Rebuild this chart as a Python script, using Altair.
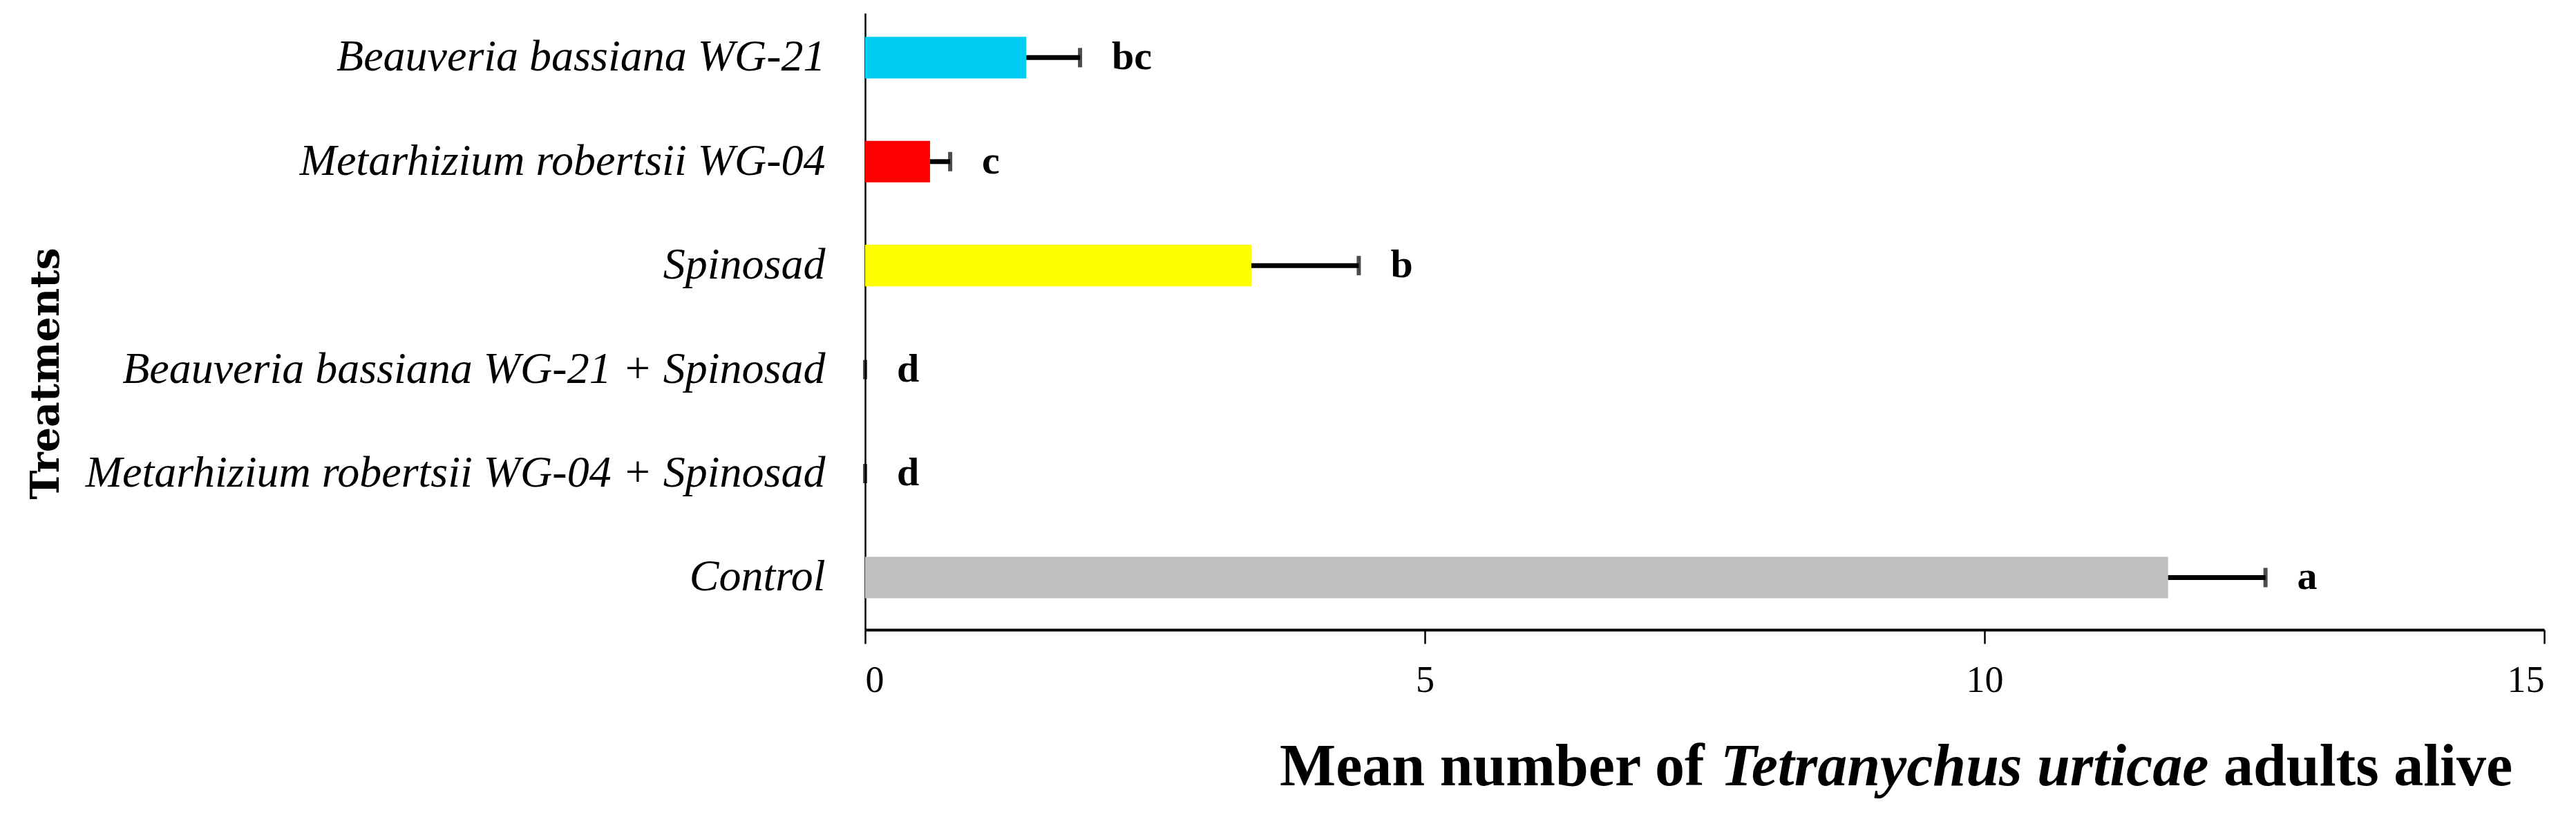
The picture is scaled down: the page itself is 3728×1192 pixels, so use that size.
import altair as alt
import pandas as pd

# ---- data ----
treatments = [
    "Beauveria bassiana WG-21\u00a0",
    "Metarhizium robertsii WG-04",
    "Spinosad",
    "Beauveria bassiana WG-21 + Spinosad",
    "Metarhizium robertsii WG-04 + Spinosad",
    "Control",
]
means = [1.44, 0.58, 3.45, 0.0, 0.0, 11.64]
ses = [0.48, 0.18, 0.96, 0.0, 0.0, 0.87]
letters = ["bc", "c", "b", "d", "d", "a"]
bar_colors = ["#00CCF2", "#FF0000", "#FFFF00", "#BFBFBF", "#BFBFBF", "#BFBFBF"]
x_ticks = [0, 5, 10, 15]
title_parts = ["Mean number of", "Tetranychus urticae", "adults alive"]

df = pd.DataFrame({"treatment": treatments, "mean": means, "se": ses, "letter": letters})
df["upper"] = df["mean"] + df["se"]

W, H = 2430, 892
PAD_L, PAD_T = 1244, 11
PAD_R = 3712 - PAD_L - W
PAD_B = 1176 - PAD_T - H

x_axis = alt.Axis(
    values=x_ticks, title=None, grid=False,
    domainColor="black", domainWidth=4,
    tickColor="black", tickWidth=2.5, tickSize=20,
    labelFont="Liberation Serif", labelFontSize=54, labelColor="black",
    labelPadding=26,
)
y_axis = alt.Axis(
    title="Treatments", grid=False, ticks=False,
    domainColor="black", domainWidth=2.5,
    labelFont="Liberation Serif", labelFontStyle="italic", labelFontSize=64,
    labelColor="black", labelPadding=58, labelLimit=2000,
    titleFont="DejaVu Serif", titleFontWeight="bold", titleFontSize=57,
    titleColor="black", titleAngle=270, titleAlign="center", titleBaseline="middle",
    titleX=-1185, titleY=521,
)
x_scale = alt.Scale(domain=[0, 15], nice=False, zero=True)
y_scale = alt.Scale(paddingInner=0.6, paddingOuter=0.265, align=0.43)

base = alt.Chart(df)
Y = alt.Y("treatment:N", sort=treatments, scale=y_scale, axis=y_axis)

bars = base.mark_bar().encode(
    x=alt.X("mean:Q", scale=x_scale, axis=x_axis),
    y=Y,
    color=alt.Color("treatment:N", sort=treatments,
                    scale=alt.Scale(domain=treatments, range=bar_colors), legend=None),
)
err = base.mark_rule(color="black", strokeWidth=7).encode(
    x=alt.X("mean:Q", scale=x_scale, axis=x_axis),
    x2="upper:Q",
    y=Y,
)
caps = base.mark_tick(color="black", thickness=6, size=28, orient="vertical").encode(
    x=alt.X("upper:Q", scale=x_scale, axis=x_axis),
    y=Y,
)
labels = base.mark_text(
    align="left", baseline="middle", dx=46,
    font="Liberation Serif", fontWeight="bold", fontSize=58, color="black",
).encode(
    x=alt.X("upper:Q", scale=x_scale, axis=x_axis),
    y=Y,
    text="letter:N",
)

# x-axis title with an italic species name, as three text pieces
FS = 86
title_y = 1117
x0 = 600
w1 = 638   # "Mean number of " at FS
w2 = 714   # "Tetranychus urticae" at FS
t1 = alt.Chart(pd.DataFrame({"t": [title_parts[0]]})).mark_text(
    align="left", baseline="alphabetic", font="Liberation Serif",
    fontWeight="bold", fontSize=FS, color="black",
).encode(x=alt.value(x0), y=alt.value(title_y), text="t:N")
t2 = alt.Chart(pd.DataFrame({"t": [title_parts[1]]})).mark_text(
    align="left", baseline="alphabetic", font="Liberation Serif",
    fontWeight="bold", fontStyle="italic", fontSize=FS, color="black",
).encode(x=alt.value(x0 + w1), y=alt.value(title_y), text="t:N")
t3 = alt.Chart(pd.DataFrame({"t": [title_parts[2]]})).mark_text(
    align="left", baseline="alphabetic", font="Liberation Serif",
    fontWeight="bold", fontSize=FS, color="black",
).encode(x=alt.value(x0 + w1 + w2 + 14), y=alt.value(title_y), text="t:N")

chart = alt.layer(bars, err, caps, labels, t1, t2, t3).properties(
    width=W, height=H,
    background="white",
    autosize=alt.AutoSizeParams(type="none"),
    padding={"left": PAD_L, "top": PAD_T, "right": PAD_R, "bottom": PAD_B},
).configure_view(stroke=None)

chart.save("out.html", embed_options={"renderer": "svg", "actions": False})
